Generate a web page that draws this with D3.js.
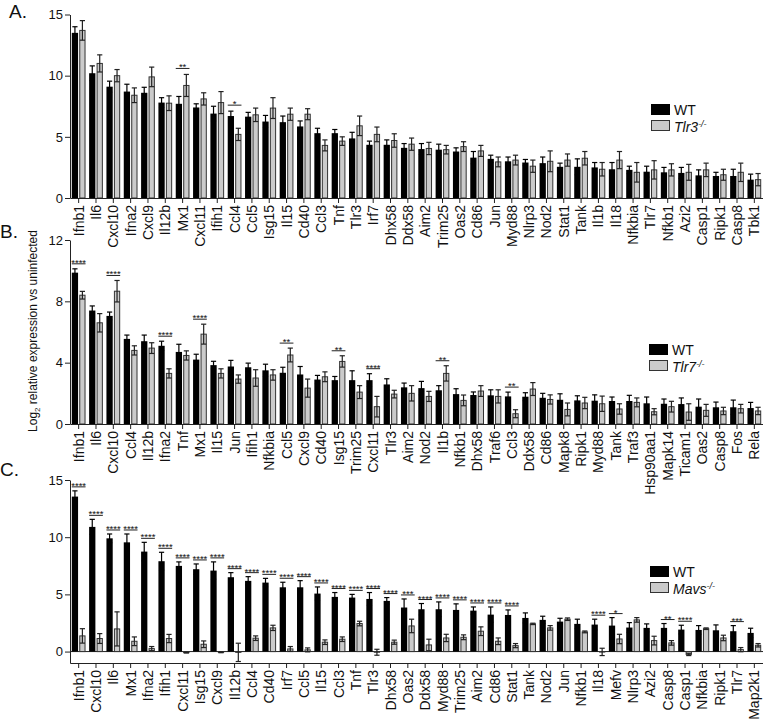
<!DOCTYPE html>
<html><head><meta charset="utf-8">
<script src="https://cdn.jsdelivr.net/npm/d3@7"></script>
<style>
body{margin:0;background:#fff}
svg{display:block}
text{font-family:"Liberation Sans",Arial,Helvetica,sans-serif;fill:#111}
</style>
</head><body>
<svg id="chart" width="763" height="722"></svg>
<script>
// ---------- Panel A: WT vs Tlr3-/- ----------
const A_categories = ["Ifnb1","Il6","Cxcl10","Ifna2","Cxcl9","Il12b","Mx1","Cxcl11","Ifih1","Ccl4","Ccl5","Isg15","Il15","Cd40","Ccl3","Tnf","Tlr3","Irf7","Dhx58","Ddx58","Aim2","Trim25","Oas2","Cd86","Jun","Myd88","Nlrp3","Nod2","Stat1","Tank","Il1b","Il18","Nfkbia","Tlr7","Nfkb1","Azi2","Casp1","Ripk1","Casp8","Tbk1"];
const A_wt    = [13.5,10.2,9.1,8.7,8.6,7.8,7.7,7.4,6.9,6.7,6.65,6.25,6.2,5.85,5.3,5.3,4.87,4.35,4.35,4.1,4.0,3.95,3.8,3.3,3.2,3.0,2.9,2.85,2.55,2.55,2.5,2.35,2.3,2.15,2.1,2.05,1.85,1.8,1.8,1.5];
const A_wtErr = [0.5,0.6,0.45,0.6,0.45,0.4,0.6,0.3,0.6,0.4,0.35,0.5,0.5,0.45,0.4,0.3,0.5,0.3,0.4,0.35,0.45,0.45,0.3,0.5,0.3,0.35,0.25,0.5,0.3,0.65,0.4,0.55,0.3,0.45,0.4,0.45,0.45,0.3,0.55,0.45];
const A_ko    = [13.7,11.0,10.0,8.4,9.9,7.75,9.2,8.1,7.8,5.2,6.8,7.35,6.85,6.85,4.3,4.65,5.9,5.2,4.7,4.4,4.05,3.95,4.2,3.85,2.95,3.1,2.6,3.0,3.1,3.25,2.35,3.1,2.1,2.3,2.3,2.1,2.3,1.9,2.1,1.5];
const A_koErr = [0.8,0.7,0.5,0.6,0.8,0.6,0.9,0.5,0.9,0.5,0.55,0.85,0.5,0.45,0.45,0.35,0.8,0.6,0.55,0.5,0.5,0.35,0.4,0.45,0.4,0.4,0.5,0.85,0.5,0.55,0.55,0.7,0.8,0.75,0.5,0.65,0.55,0.45,0.75,0.5];
const A_sigGenes  = ["Mx1","Ccl4"];
const A_sigLabels = ["**","*"];
const A_ticks = [0,5,10,15];

// ---------- Panel B: WT vs Tlr7-/- ----------
const B_categories = ["Ifnb1","Il6","Cxcl10","Ccl4","Il12b","Ifna2","Tnf","Mx1","Il15","Jun","Ifih1","Nfkbia","Ccl5","Cxcl9","Cd40","Isg15","Trim25","Cxcl11","Tlr3","Aim2","Nod2","Il1b","Nfkb1","Dhx58","Traf6","Ccl3","Ddx58","Cd86","Mapk8","Ripk1","Myd88","Tank","Traf3","Hsp90aa1","Mapk14","Ticam1","Oas2","Casp8","Fos","Rela"];
const B_wt    = [9.87,7.4,7.05,5.55,5.4,5.1,4.7,4.2,3.84,3.75,3.7,3.5,3.34,3.23,2.9,2.86,2.86,2.86,2.58,2.39,2.34,2.2,1.95,1.89,1.87,1.8,1.78,1.71,1.58,1.54,1.52,1.5,1.5,1.35,1.32,1.3,1.13,1.09,1.09,1.04];
const B_wtErr = [0.25,0.3,0.25,0.25,0.4,0.3,0.5,0.35,0.25,0.4,0.27,0.4,0.36,0.52,0.27,0.24,0.61,0.42,0.37,0.28,0.44,0.3,0.35,0.2,0.36,0.28,0.26,0.29,0.39,0.3,0.38,0.26,0.37,0.41,0.31,0.4,0.5,0.34,0.47,0.37];
const B_ko    = [8.4,6.6,8.66,4.8,4.95,3.3,4.47,5.86,3.3,2.93,3.0,3.2,4.5,2.34,3.08,4.08,2.08,1.13,1.95,2.0,1.8,3.3,1.54,2.15,1.8,0.67,2.28,1.6,0.95,1.37,1.32,0.98,1.41,0.8,1.13,0.78,0.89,0.85,1.0,0.85];
const B_koErr = [0.25,0.6,0.7,0.3,0.35,0.3,0.3,0.65,0.3,0.27,0.54,0.34,0.45,0.59,0.32,0.37,0.42,0.67,0.25,0.5,0.33,0.5,0.35,0.35,0.43,0.26,0.42,0.3,0.42,0.37,0.5,0.34,0.29,0.2,0.35,0.54,0.39,0.24,0.28,0.24];
const B_sigGenes  = ["Ifnb1","Cxcl10","Ifna2","Mx1","Ccl5","Isg15","Cxcl11","Il1b","Ccl3"];
const B_sigLabels = ["****","****","****","****","**","**","****","**","**"];
const B_ticks = [0,4,8,12];

// ---------- Panel C: WT vs Mavs-/- ----------
const C_categories = ["Ifnb1","Cxcl10","Il6","Mx1","Ifna2","Ifih1","Cxcl11","Isg15","Cxcl9","Il12b","Ccl4","Cd40","Irf7","Ccl5","Il15","Ccl3","Tnf","Tlr3","Dhx58","Oas2","Ddx58","Myd88","Trim25","Aim2","Cd86","Stat1","Tank","Nod2","Jun","Nfkb1","Il18","Mefv","Nlrp3","Azi2","Casp8","Casp1","Nfkbia","Ripk1","Tlr7","Map2k1"];
const C_wt    = [13.55,10.9,9.9,9.55,8.74,7.9,7.49,7.2,7.08,6.5,6.18,6.03,5.62,5.62,5.07,4.78,4.72,4.6,4.43,3.85,3.7,3.7,3.64,3.58,3.23,3.2,2.94,2.77,2.62,2.42,2.36,2.27,2.1,2.07,2.07,1.92,1.89,1.86,1.78,1.63];
const C_wtErr = [0.5,0.66,0.38,0.73,0.81,0.78,0.35,0.46,0.76,0.4,0.37,0.37,0.44,0.58,0.58,0.38,0.28,0.56,0.29,0.75,0.5,0.64,0.53,0.32,0.67,0.44,0.44,0.32,0.29,0.41,0.47,0.7,0.43,0.35,0.38,0.38,0.38,0.47,0.49,0.41];
const C_ko    = [1.37,1.14,1.98,0.9,0.26,1.14,-0.09,0.64,-0.06,-0.07,1.17,2.07,0.23,0.15,0.82,1.08,2.45,-0.06,0.82,2.24,0.58,1.19,1.25,1.78,0.9,0.52,2.42,2.07,2.83,1.72,-0.03,1.1,2.77,0.96,0.76,-0.25,2.0,1.19,0.17,0.55];
const C_koErr = [0.63,0.43,1.49,0.38,0.18,0.36,0.04,0.29,0.04,0.8,0.2,0.23,0.21,0.17,0.2,0.2,0.2,0.26,0.18,0.59,0.5,0.32,0.21,0.38,0.29,0.18,0.06,0.2,0.11,0.08,0.32,0.41,0.2,0.38,0.2,0.1,0.07,0.24,0.18,0.15];
const C_sigGenes  = ["Ifnb1","Cxcl10","Il6","Mx1","Ifna2","Ifih1","Cxcl11","Isg15","Cxcl9","Il12b","Ccl4","Cd40","Irf7","Ccl5","Il15","Ccl3","Tnf","Tlr3","Dhx58","Oas2","Ddx58","Myd88","Trim25","Aim2","Cd86","Stat1","Il18","Mefv","Casp8","Casp1","Tlr7"];
const C_sigLabels = ["****","****","****","****","****","****","****","****","****","****","****","****","****","****","****","****","****","****","****","***","****","****","****","****","****","****","****","*","**","****","***"];
const C_ticks = [0,5,10,15];

const seriesNames = ["WT","KO"];
const FONT = '"Liberation Sans",Arial,Helvetica,sans-serif';

const svg = d3.select("#chart");

function panel(cfg){
  const g = svg.append("g");
  const x0 = d3.scaleBand().domain(cfg.cats).range([70, 763]).paddingInner(0).paddingOuter(0);
  const x1 = d3.scaleBand().domain(seriesNames).range([0, x0.bandwidth()]).paddingInner(0.16).paddingOuter(0.24);
  const y = d3.scaleLinear().domain(cfg.domain).range(cfg.range);
  const rows = cfg.cats.map((c,i)=>({c, wt:cfg.wt[i], we:cfg.wtErr[i], ko:cfg.ko[i], ke:cfg.koErr[i]}));

  if (cfg.domain[0] < 0){
    g.append("line").attr("x1",70).attr("x2",763).attr("y1",y(0)).attr("y2",y(0))
      .attr("stroke","#222").attr("stroke-width",1);
  }

  const bw = x1.bandwidth();
  const cap = 2.6;
  const grp = g.selectAll("g.cat").data(rows).join("g").attr("class","cat")
    .attr("transform", d=>`translate(${x0(d.c)},0)`);

  grp.append("rect").attr("x", x1("WT")).attr("width", bw)
    .attr("y", d=>Math.min(y(d.wt), y(0))).attr("height", d=>Math.abs(y(d.wt)-y(0)))
    .attr("fill","#000");
  grp.append("rect").attr("x", x1("KO")+0.5).attr("width", bw-1)
    .attr("y", d=>Math.min(y(d.ko), y(0))).attr("height", d=>Math.max(0.5,Math.abs(y(d.ko)-y(0))))
    .attr("fill","#cbcbcb").attr("stroke","#333").attr("stroke-width",1);

  function errbar(sel, key, ekey, name, col){
    const cx = x1(name)+bw/2;
    sel.append("line").attr("x1",cx).attr("x2",cx)
      .attr("y1",d=>y(d[key]-d[ekey])).attr("y2",d=>y(d[key]+d[ekey]))
      .attr("stroke",col).attr("stroke-width",1.2);
    sel.append("line").attr("x1",cx-cap).attr("x2",cx+cap)
      .attr("y1",d=>y(d[key]+d[ekey])).attr("y2",d=>y(d[key]+d[ekey]))
      .attr("stroke",col).attr("stroke-width",1.2);
    sel.append("line").attr("x1",cx-cap).attr("x2",cx+cap)
      .attr("y1",d=>y(d[key]-d[ekey])).attr("y2",d=>y(d[key]-d[ekey]))
      .attr("stroke",col).attr("stroke-width",1.2);
  }
  errbar(grp,"wt","we","WT","#000");
  errbar(grp,"ko","ke","KO","#222");

  const sig = cfg.sigGenes.map((c,i)=>{
    const r = rows.find(d=>d.c===c);
    return {c, lab:cfg.sigLabels[i], top: Math.max(r.wt+r.we, r.ko+r.ke)};
  });
  const sg = g.selectAll("g.sig").data(sig).join("g").attr("class","sig")
    .attr("transform", d=>`translate(${x0(d.c)},${y(d.top)-cfg.sigGap})`);
  sg.append("line").attr("x1", x1("WT")).attr("x2", x1("KO")+bw).attr("y1",0).attr("y2",0)
    .attr("stroke","#222").attr("stroke-width",1);
  sg.append("text").attr("x", x0.bandwidth()/2).attr("y",2).attr("text-anchor","middle")
    .style("font-size","9.5px").text(d=>d.lab);

  const yAxis = d3.axisLeft(y).tickValues(cfg.ticks).tickSize(5).tickSizeOuter(0).tickPadding(2);
  const ya = g.append("g").attr("transform","translate(70,0)").call(yAxis);
  ya.selectAll("text").style("font-size","13px").style("font-family",FONT).attr("fill","#111");
  ya.selectAll("line,path").attr("stroke","#222");

  const xAxis = d3.axisBottom(x0).tickSize(5).tickSizeOuter(0);
  const xa = g.append("g").attr("transform",`translate(0,${cfg.range[0]})`).call(xAxis);
  xa.selectAll("line,path").attr("stroke","#222");
  xa.selectAll("text").attr("transform","rotate(-90)").attr("text-anchor","end")
    .attr("x",-7).attr("y",0).attr("dy","0.36em")
    .style("font-size","14px").style("font-family",FONT).attr("fill","#111");

  const L = cfg.legend;
  g.append("rect").attr("x",L.x).attr("y",L.y).attr("width",19).attr("height",11).attr("fill","#000");
  g.append("rect").attr("x",L.x+0.5).attr("y",L.y+16.5).attr("width",18).attr("height",10)
    .attr("fill","#cbcbcb").attr("stroke","#333").attr("stroke-width",1);
  g.append("text").attr("x",L.x+23).attr("y",L.y+11).style("font-size","14px").text("WT");
  const t = g.append("text").attr("x",L.x+23).attr("y",L.y+27.5).style("font-size","14px");
  t.append("tspan").style("font-style","italic").text(cfg.koName);
  t.append("tspan").attr("dy",-5).style("font-size","9px").style("font-style","italic").text("-/-");

  g.append("text").attr("x",cfg.letter.x).attr("y",cfg.letter.y).style("font-size","19px").text(cfg.letter.t);
}

panel({cats:A_categories, wt:A_wt, wtErr:A_wtErr, ko:A_ko, koErr:A_koErr,
  sigGenes:A_sigGenes, sigLabels:A_sigLabels, domain:[0,15], range:[198,14.5], ticks:A_ticks,
  sigGap:6, koName:"Tlr3", legend:{x:651,y:104}, letter:{t:"A.",x:9,y:18}});
panel({cats:B_categories, wt:B_wt, wtErr:B_wtErr, ko:B_ko, koErr:B_koErr,
  sigGenes:B_sigGenes, sigLabels:B_sigLabels, domain:[0,12], range:[424,240], ticks:B_ticks,
  sigGap:5, koName:"Tlr7", legend:{x:649,y:344}, letter:{t:"B.",x:0,y:238}});
panel({cats:C_categories, wt:C_wt, wtErr:C_wtErr, ko:C_ko, koErr:C_koErr,
  sigGenes:C_sigGenes, sigLabels:C_sigLabels, domain:[-1,15], range:[663,480], ticks:C_ticks,
  sigGap:4, koName:"Mavs", legend:{x:650,y:566}, letter:{t:"C.",x:0,y:476}});

const yt = svg.append("text").attr("transform","translate(37,331) rotate(-90)")
  .attr("text-anchor","middle").style("font-size","12px");
yt.append("tspan").text("Log");
yt.append("tspan").attr("dy",3).style("font-size","8px").text("2");
yt.append("tspan").attr("dy",-3).text(" relative expression vs uninfected");
</script>
</body></html>
